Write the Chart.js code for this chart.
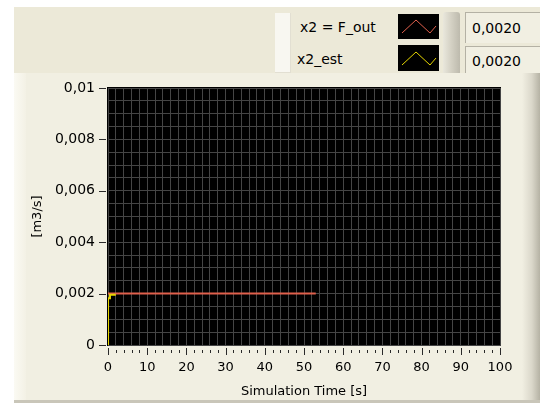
<!DOCTYPE html>
<html><head><meta charset="utf-8">
<script src="https://cdn.jsdelivr.net/npm/chart.js@4/dist/chart.umd.min.js"></script>
<style>
html,body{margin:0;padding:0;width:540px;height:403px;overflow:hidden;background:#fff;font-family:"DejaVu Sans",sans-serif;font-size:14px;color:#000;}
.abs{position:absolute;}
#top{left:14px;top:7px;width:526px;height:66px;background:#ECE9D8;}
#panel{left:14px;top:73px;width:526px;height:328px;background:#F1EFE2;}
#hl{left:14px;top:73px;width:12px;height:328px;background:linear-gradient(to right,#FBFAF3,#F3F1E5);}
#redge{left:522px;top:73px;width:18px;height:328px;background:linear-gradient(to right,#F1EFE2,#DAD7CA 55%,#B5B2A4);}
#bot{left:14px;top:400px;width:526px;height:3px;background:#C9C6B9;}
#lbar{left:275px;top:13px;width:16px;height:60px;background:#F8F7F1;box-shadow:inset -1px -1px 0 #E2DFD2;}
#sep{left:443px;top:12px;width:17px;height:61px;background:linear-gradient(to right,#E9E7DC,#D3D0C3 50%,#BDBAAD);border-radius:3px 3px 0 0;}
.lt{line-height:16px;white-space:nowrap;}
.sw{background:#000;}
.vb{left:465px;width:75px;background:#F1EFE2;border-top:1px solid #B4B1A4;border-left:1px solid #B4B1A4;box-sizing:border-box;line-height:16px;padding-left:6px;}
#chartwrap{left:0;top:0;width:540px;height:403px;}
</style></head>
<body>
<div id="top" class="abs"></div>
<div id="panel" class="abs"></div>
<div id="hl" class="abs"></div>
<div id="redge" class="abs"></div>
<div id="bot" class="abs"></div>
<div id="lbar" class="abs"></div>
<div id="lt1" class="abs lt" style="left:300px;top:19px;"></div>
<div id="lt2" class="abs lt" style="left:297px;top:51px;"></div>
<svg class="abs sw" style="left:398px;top:14px;" width="41" height="25"><polyline id="sw1" fill="none" stroke-width="1" points="4,19 18,6 32,19 38,12"/></svg>
<svg class="abs sw" style="left:398px;top:45px;" width="41" height="26"><polyline id="sw2" fill="none" stroke-width="1" points="4,20 18,7 32,20 38,13"/></svg>
<div id="sep" class="abs"></div>
<div id="vb1" class="abs vb" style="top:12px;height:31px;padding-top:7px;"></div>
<div id="vb2" class="abs vb" style="top:46px;height:27px;padding-top:6px;"></div>
<div id="chartwrap" class="abs"><canvas id="c" width="540" height="403"></canvas></div>
<script>
// ---- data ----
const seriesNames = ["x2 = F_out", "x2_est"];
const seriesColors = ["#E0604C", "#E6D600"];
const foutTime = [0, 53];
const foutValue = [0.002, 0.002];
const estTime = [0, 0, 0.5, 0.5, 2];
const estValue = [0, 0.00182, 0.00182, 0.00196, 0.00196];
const currentValues = ["0,0020", "0,0020"];
const xTickLabels = ["0","10","20","30","40","50","60","70","80","90","100"];
const yTickLabels = ["0","0,002","0,004","0,006","0,008","0,01"];
const xTitle = "Simulation Time [s]";
const yTitle = "[m3/s]";

function pts(t, v){ return t.map((x,i)=>({x:x, y:v[i]})); }

document.getElementById('lt1').textContent = seriesNames[0];
document.getElementById('lt2').textContent = seriesNames[1];
document.getElementById('sw1').setAttribute('stroke', seriesColors[0]);
document.getElementById('sw2').setAttribute('stroke', seriesColors[1]);
document.getElementById('vb1').textContent = currentValues[0];
document.getElementById('vb2').textContent = currentValues[1];

const TICKFONT = {family: "DejaVu Sans", size: 14};
const XTICKFONT = {family: "DejaVu Sans", size: 13};
const TITLEFONT = {family: "DejaVu Sans", size: 13};
const GRID = '#454545';
const TICKCOL = '#2a2a2a';

const plotPlugin = {
  id: 'plotbg',
  beforeDraw(chart){
    const {ctx, chartArea:a} = chart;
    ctx.save();
    ctx.fillStyle = '#000';
    ctx.fillRect(a.left-1, a.top-1, a.right-a.left+2, a.bottom-a.top+2);
    ctx.restore();
  },
  afterDraw(chart){
    const xs = chart.scales.x, ys = chart.scales.y, ctx = chart.ctx, a = chart.chartArea;
    ctx.save();
    ctx.strokeStyle = TICKCOL;
    ctx.lineWidth = 1;
    xs.ticks.forEach((t, i) => {
      const px = Math.round(xs.getPixelForValue(t.value)) + 0.5;
      ctx.beginPath();
      if (i % 5 === 0) { ctx.moveTo(px, a.bottom + 3); ctx.lineTo(px, a.bottom + 10); }
      else { ctx.moveTo(px, a.bottom + 5); ctx.lineTo(px, a.bottom + 8); }
      ctx.stroke();
    });
    ys.ticks.forEach((t, i) => {
      if (i % 4 !== 0) return;
      const py = Math.round(ys.getPixelForValue(t.value)) + 0.5;
      ctx.beginPath();
      ctx.moveTo(a.left - 9, py); ctx.lineTo(a.left - 2, py);
      ctx.stroke();
    });
    ctx.restore();
  }
};

new Chart(document.getElementById('c'), {
  type: 'line',
  data: {
    datasets: [
      {label: seriesNames[1], data: pts(estTime, estValue), borderColor: seriesColors[1], borderWidth: 2, pointRadius: 0, tension: 0, order: 0},
      {label: seriesNames[0], data: pts(foutTime, foutValue), borderColor: seriesColors[0], borderWidth: 2, pointRadius: 0, tension: 0, order: 1}
    ]
  },
  options: {
    responsive: false,
    animation: false,
    events: [],
    layout: {padding: {left: 0, top: 88, right: 40, bottom: 0}},
    plugins: {legend: {display: false}, tooltip: {enabled: false}},
    scales: {
      x: {
        type: 'linear', min: 0, max: 100,
        afterFit(s){ s.height = 58; },
        border: {display: true, color: GRID},
        grid: {color: GRID, drawTicks: false},
        ticks: {stepSize: 2, autoSkip: false, maxRotation: 0, padding: 15, color: '#000', font: XTICKFONT,
          callback: (v, i) => (i % 5 === 0 ? xTickLabels[i/5] : '')},
        title: {display: true, text: xTitle, color: '#000', font: TITLEFONT, padding: {top: 0, bottom: 4}}
      },
      y: {
        type: 'linear', min: 0, max: 0.01,
        afterFit(s){ s.width = 108; },
        border: {display: true, color: GRID},
        grid: {color: GRID, drawTicks: false},
        ticks: {stepSize: 0.0005, autoSkip: false, padding: 13, color: '#000', font: TICKFONT,
          callback: (v, i) => (i % 4 === 0 ? yTickLabels[i/4] : '')},
        title: {display: true, text: yTitle, color: '#000', font: TITLEFONT, padding: {top: 30, bottom: 0}}
      }
    }
  },
  plugins: [plotPlugin]
});
</script>
</body></html>
